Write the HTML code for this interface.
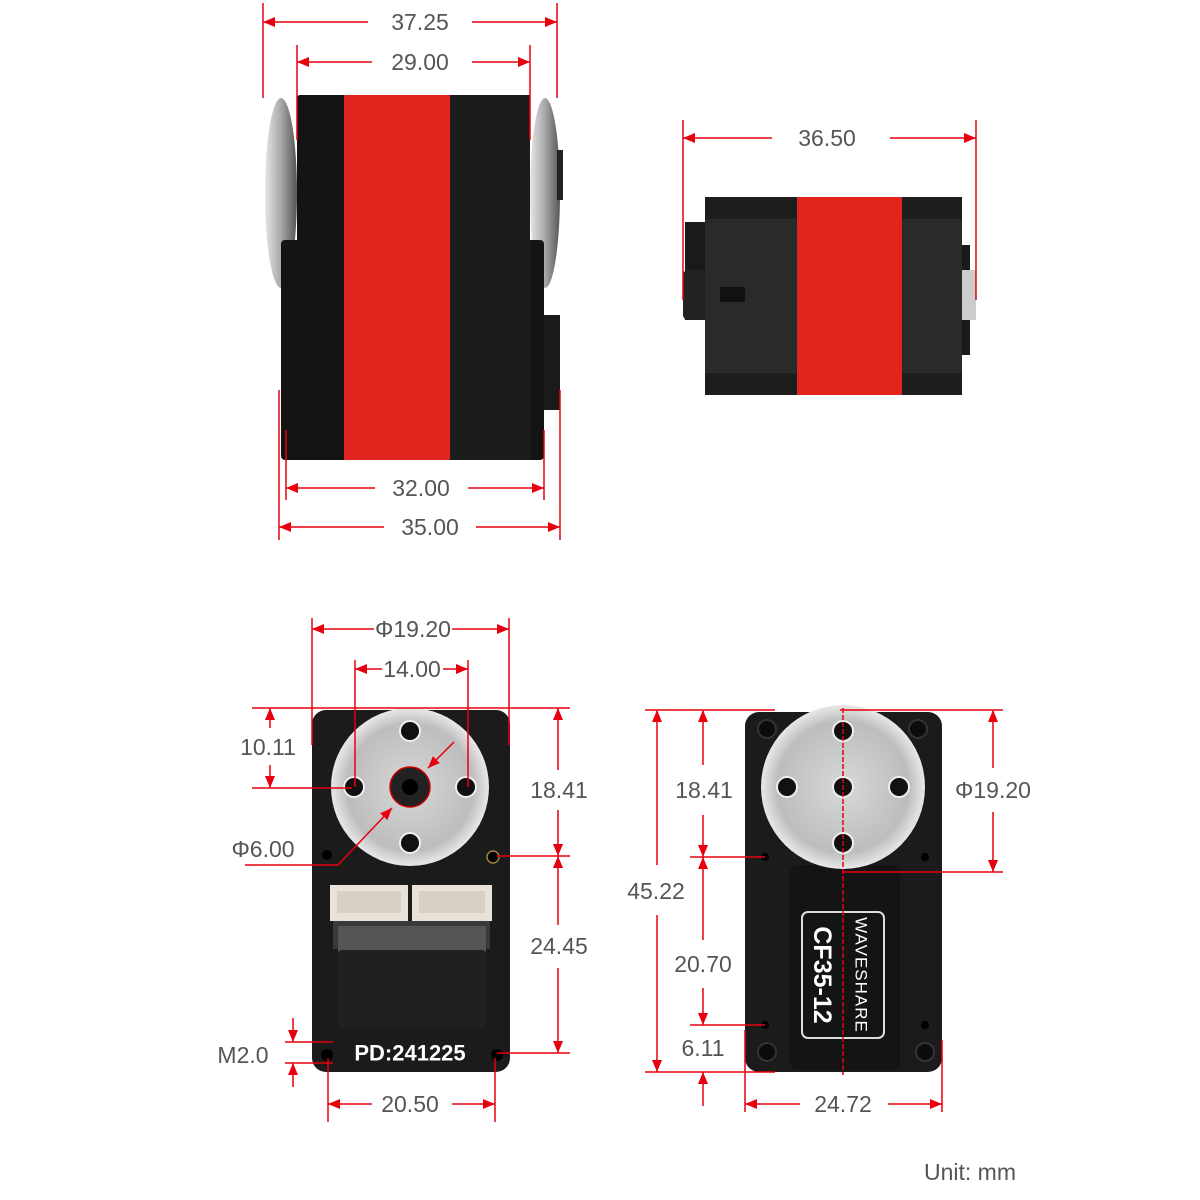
<!DOCTYPE html>
<html><head><meta charset="utf-8"><style>
html,body{margin:0;padding:0;background:#fff;}
svg{display:block;}
text{font-family:"Liberation Sans",sans-serif;}
.d{font-size:23px;fill:#555;text-anchor:middle;dominant-baseline:central;}
.r{stroke:#e8000f;stroke-width:1.5;fill:none;}
</style></head><body>
<svg width="1200" height="1200" viewBox="0 0 1200 1200" xmlns="http://www.w3.org/2000/svg">
<defs>
<marker id="a" viewBox="0 0 12 10" refX="12" refY="5" markerWidth="12" markerHeight="10" markerUnits="userSpaceOnUse" orient="auto-start-reverse"><path d="M0,0L12,5L0,10z" fill="#e8000f"/></marker>
<radialGradient id="sil" cx="50%" cy="50%" r="50%"><stop offset="0" stop-color="#d8d8d8"/><stop offset="0.8" stop-color="#bdbdbd"/><stop offset="1" stop-color="#e8e8e8"/></radialGradient>
<linearGradient id="whl" x1="0" x2="1"><stop offset="0" stop-color="#e6e6e6"/><stop offset="0.5" stop-color="#a8a8a8"/><stop offset="1" stop-color="#555"/></linearGradient>
</defs>

<!-- TOP LEFT SERVO -->
<ellipse cx="281" cy="193" rx="16" ry="95" fill="url(#whl)"/>
<ellipse cx="545" cy="193" rx="15" ry="95" fill="url(#whl)"/>
<rect x="281" y="240" width="263" height="220" rx="4" fill="#141414"/>
<rect x="297" y="95" width="233" height="220" rx="3" fill="#141414"/>
<rect x="544" y="315" width="16" height="95" fill="#1a1a1a"/>
<rect x="557" y="150" width="6" height="50" fill="#222"/>
<rect x="344" y="95" width="106" height="365" fill="#e0251e"/>
<rect x="450" y="95" width="80" height="365" fill="#1c1c1c"/>

<!-- TOP RIGHT SERVO -->
<rect x="685" y="222" width="35" height="98" fill="#1a1a1a"/>
<rect x="683" y="270" width="30" height="50" rx="5" fill="#222"/>
<rect x="950" y="245" width="20" height="110" fill="#1a1a1a"/>
<rect x="950" y="270" width="26" height="50" fill="#ccc"/>
<rect x="705" y="197" width="257" height="198" rx="3" fill="#2a2a2a"/>
<rect x="705" y="197" width="257" height="22" fill="#1d1d1d"/>
<rect x="705" y="373" width="257" height="22" fill="#1d1d1d"/>
<rect x="797" y="197" width="105" height="198" fill="#e0251e"/>
<rect x="720" y="287" width="25" height="15" fill="#111"/>

<!-- BOTTOM LEFT SERVO -->
<rect x="312" y="710" width="198" height="362" rx="14" fill="#1b1b1b"/>
<circle cx="410" cy="787" r="79" fill="url(#sil)"/>
<circle cx="354" cy="787" r="10" fill="#111" stroke="#eee" stroke-width="2"/>
<circle cx="466" cy="787" r="10" fill="#111" stroke="#eee" stroke-width="2"/>
<circle cx="410" cy="731" r="10" fill="#111" stroke="#eee" stroke-width="2"/>
<circle cx="410" cy="843" r="10" fill="#111" stroke="#eee" stroke-width="2"/>
<circle cx="410" cy="787" r="20" fill="#222" stroke="#c00" stroke-width="1.5"/>
<circle cx="410" cy="787" r="8" fill="#000"/>
<circle cx="327" cy="855" r="5" fill="#000"/>
<circle cx="493" cy="857" r="6" fill="#000" stroke="#a08040" stroke-width="1.5"/>
<rect x="330" y="885" width="78" height="36" fill="#e8e2d8"/>
<rect x="412" y="885" width="80" height="36" fill="#e8e2d8"/>
<rect x="337" y="891" width="64" height="22" fill="#d8d0c4"/>
<rect x="419" y="891" width="66" height="22" fill="#d8d0c4"/>
<rect x="333" y="921" width="157" height="28" fill="#3a3a3a"/>
<rect x="338" y="926" width="148" height="26" fill="#555"/>
<rect x="338" y="950" width="148" height="78" rx="4" fill="#202020"/>
<text x="410" y="1053" font-size="22" font-weight="bold" fill="#fff" text-anchor="middle" dominant-baseline="central" style="font-family:'Liberation Sans Narrow','Liberation Sans',sans-serif">PD:241225</text>
<circle cx="327" cy="1055" r="6" fill="#000"/>
<circle cx="497" cy="1055" r="6" fill="#000"/>

<!-- BOTTOM RIGHT SERVO -->
<rect x="745" y="712" width="197" height="360" rx="14" fill="#1b1b1b"/>
<rect x="790" y="865" width="110" height="205" rx="8" fill="#141414"/>
<circle cx="843" cy="787" r="82" fill="url(#sil)"/>
<circle cx="787" cy="787" r="10" fill="#111" stroke="#eee" stroke-width="2"/>
<circle cx="899" cy="787" r="10" fill="#111" stroke="#eee" stroke-width="2"/>
<circle cx="843" cy="731" r="10" fill="#111" stroke="#eee" stroke-width="2"/>
<circle cx="843" cy="787" r="10" fill="#111" stroke="#eee" stroke-width="2"/>
<circle cx="843" cy="843" r="10" fill="#111" stroke="#eee" stroke-width="2"/>
<circle cx="767" cy="729" r="9" fill="#0c0c0c" stroke="#333" stroke-width="2"/>
<circle cx="918" cy="729" r="9" fill="#0c0c0c" stroke="#333" stroke-width="2"/>
<circle cx="767" cy="1052" r="9" fill="#0c0c0c" stroke="#333" stroke-width="2"/>
<circle cx="925" cy="1052" r="9" fill="#0c0c0c" stroke="#333" stroke-width="2"/>
<circle cx="765" cy="857" r="4" fill="#000"/>
<circle cx="925" cy="857" r="4" fill="#000"/>
<circle cx="765" cy="1025" r="4" fill="#000"/>
<circle cx="925" cy="1025" r="4" fill="#000"/>
<rect x="802" y="912" width="82" height="126" rx="6" fill="none" stroke="#ddd" stroke-width="2"/>
<text transform="translate(861,975) rotate(90)" font-size="17" fill="#fff" text-anchor="middle" dominant-baseline="central" letter-spacing="1">WAVESHARE</text>
<text transform="translate(822,975) rotate(90)" font-size="25" font-weight="bold" fill="#fff" text-anchor="middle" dominant-baseline="central">CF35-12</text>

<!-- DIMENSIONS -->
<g class="r">
<line x1="263" y1="3" x2="263" y2="98"/><line x1="557" y1="3" x2="557" y2="98"/>
<line x1="263" y1="22" x2="368" y2="22" marker-start="url(#a)"/><line x1="472" y1="22" x2="557" y2="22" marker-end="url(#a)"/>
<line x1="297" y1="45" x2="297" y2="140"/><line x1="530" y1="45" x2="530" y2="140"/>
<line x1="297" y1="62" x2="372" y2="62" marker-start="url(#a)"/><line x1="472" y1="62" x2="530" y2="62" marker-end="url(#a)"/>
<line x1="286" y1="430" x2="286" y2="500"/><line x1="544" y1="430" x2="544" y2="500"/>
<line x1="286" y1="488" x2="375" y2="488" marker-start="url(#a)"/><line x1="468" y1="488" x2="544" y2="488" marker-end="url(#a)"/>
<line x1="279" y1="390" x2="279" y2="540"/><line x1="560" y1="390" x2="560" y2="540"/>
<line x1="279" y1="527" x2="384" y2="527" marker-start="url(#a)"/><line x1="476" y1="527" x2="560" y2="527" marker-end="url(#a)"/>
<line x1="683" y1="120" x2="683" y2="300"/><line x1="976" y1="120" x2="976" y2="300"/>
<line x1="683" y1="138" x2="772" y2="138" marker-start="url(#a)"/><line x1="890" y1="138" x2="976" y2="138" marker-end="url(#a)"/>
<line x1="312" y1="618" x2="312" y2="745"/><line x1="509" y1="618" x2="509" y2="745"/>
<line x1="312" y1="629" x2="374" y2="629" marker-start="url(#a)"/><line x1="452" y1="629" x2="509" y2="629" marker-end="url(#a)"/>
<line x1="355" y1="660" x2="355" y2="787"/><line x1="468" y1="660" x2="468" y2="787"/>
<line x1="355" y1="669" x2="382" y2="669" marker-start="url(#a)"/><line x1="443" y1="669" x2="468" y2="669" marker-end="url(#a)"/>
<line x1="252" y1="708" x2="570" y2="708"/><line x1="252" y1="788" x2="352" y2="788"/>
<line x1="270" y1="708" x2="270" y2="728" marker-start="url(#a)"/><line x1="270" y1="765" x2="270" y2="788" marker-end="url(#a)"/>
<polyline points="245,865 338,865 392,808" marker-end="url(#a)"/>
<line x1="454" y1="742" x2="428" y2="768" marker-end="url(#a)"/>
<line x1="497" y1="856" x2="570" y2="856"/>
<line x1="558" y1="708" x2="558" y2="770" marker-start="url(#a)"/><line x1="558" y1="810" x2="558" y2="856" marker-end="url(#a)"/>
<line x1="497" y1="1053" x2="570" y2="1053"/>
<line x1="558" y1="856" x2="558" y2="925" marker-start="url(#a)"/><line x1="558" y1="968" x2="558" y2="1053" marker-end="url(#a)"/>
<line x1="285" y1="1042" x2="333" y2="1042"/><line x1="285" y1="1063" x2="333" y2="1063"/>
<line x1="293" y1="1018" x2="293" y2="1042" marker-end="url(#a)"/><line x1="293" y1="1087" x2="293" y2="1063" marker-end="url(#a)"/>
<line x1="328" y1="1058" x2="328" y2="1122"/><line x1="495" y1="1058" x2="495" y2="1122"/>
<line x1="328" y1="1104" x2="372" y2="1104" marker-start="url(#a)"/><line x1="452" y1="1104" x2="495" y2="1104" marker-end="url(#a)"/>
<line x1="645" y1="710" x2="775" y2="710"/><line x1="645" y1="1072" x2="775" y2="1072"/>
<line x1="657" y1="710" x2="657" y2="865" marker-start="url(#a)"/><line x1="657" y1="915" x2="657" y2="1072" marker-end="url(#a)"/>
<line x1="690" y1="857" x2="765" y2="857"/>
<line x1="703" y1="710" x2="703" y2="765" marker-start="url(#a)"/><line x1="703" y1="815" x2="703" y2="857" marker-end="url(#a)"/>
<line x1="690" y1="1025" x2="765" y2="1025"/>
<line x1="703" y1="857" x2="703" y2="940" marker-start="url(#a)"/><line x1="703" y1="988" x2="703" y2="1025" marker-end="url(#a)"/>
<line x1="703" y1="1106" x2="703" y2="1072" marker-end="url(#a)"/>
<line x1="840" y1="710" x2="1003" y2="710"/><line x1="843" y1="872" x2="1003" y2="872"/>
<line x1="993" y1="710" x2="993" y2="768" marker-start="url(#a)"/><line x1="993" y1="812" x2="993" y2="872" marker-end="url(#a)"/>
<line x1="843" y1="708" x2="843" y2="1075" stroke-dasharray="5,2"/>
<line x1="745" y1="1030" x2="745" y2="1112"/><line x1="942" y1="1040" x2="942" y2="1112"/>
<line x1="745" y1="1104" x2="800" y2="1104" marker-start="url(#a)"/><line x1="888" y1="1104" x2="942" y2="1104" marker-end="url(#a)"/>
</g>

<text class="d" x="420" y="22">37.25</text>
<text class="d" x="420" y="62">29.00</text>
<text class="d" x="421" y="488">32.00</text>
<text class="d" x="430" y="527">35.00</text>
<text class="d" x="827" y="138">36.50</text>
<text class="d" x="413" y="629">Φ19.20</text>
<text class="d" x="412" y="669">14.00</text>
<text class="d" x="268" y="747">10.11</text>
<text class="d" x="263" y="849">Φ6.00</text>
<text class="d" x="559" y="790">18.41</text>
<text class="d" x="559" y="946">24.45</text>
<text class="d" x="243" y="1055">M2.0</text>
<text class="d" x="410" y="1104">20.50</text>
<text class="d" x="656" y="891">45.22</text>
<text class="d" x="704" y="790">18.41</text>
<text class="d" x="703" y="964">20.70</text>
<text class="d" x="703" y="1048">6.11</text>
<text class="d" x="993" y="790">Φ19.20</text>
<text class="d" x="843" y="1104">24.72</text>
<text class="d" x="970" y="1172">Unit: mm</text>
</svg>
</body></html>
